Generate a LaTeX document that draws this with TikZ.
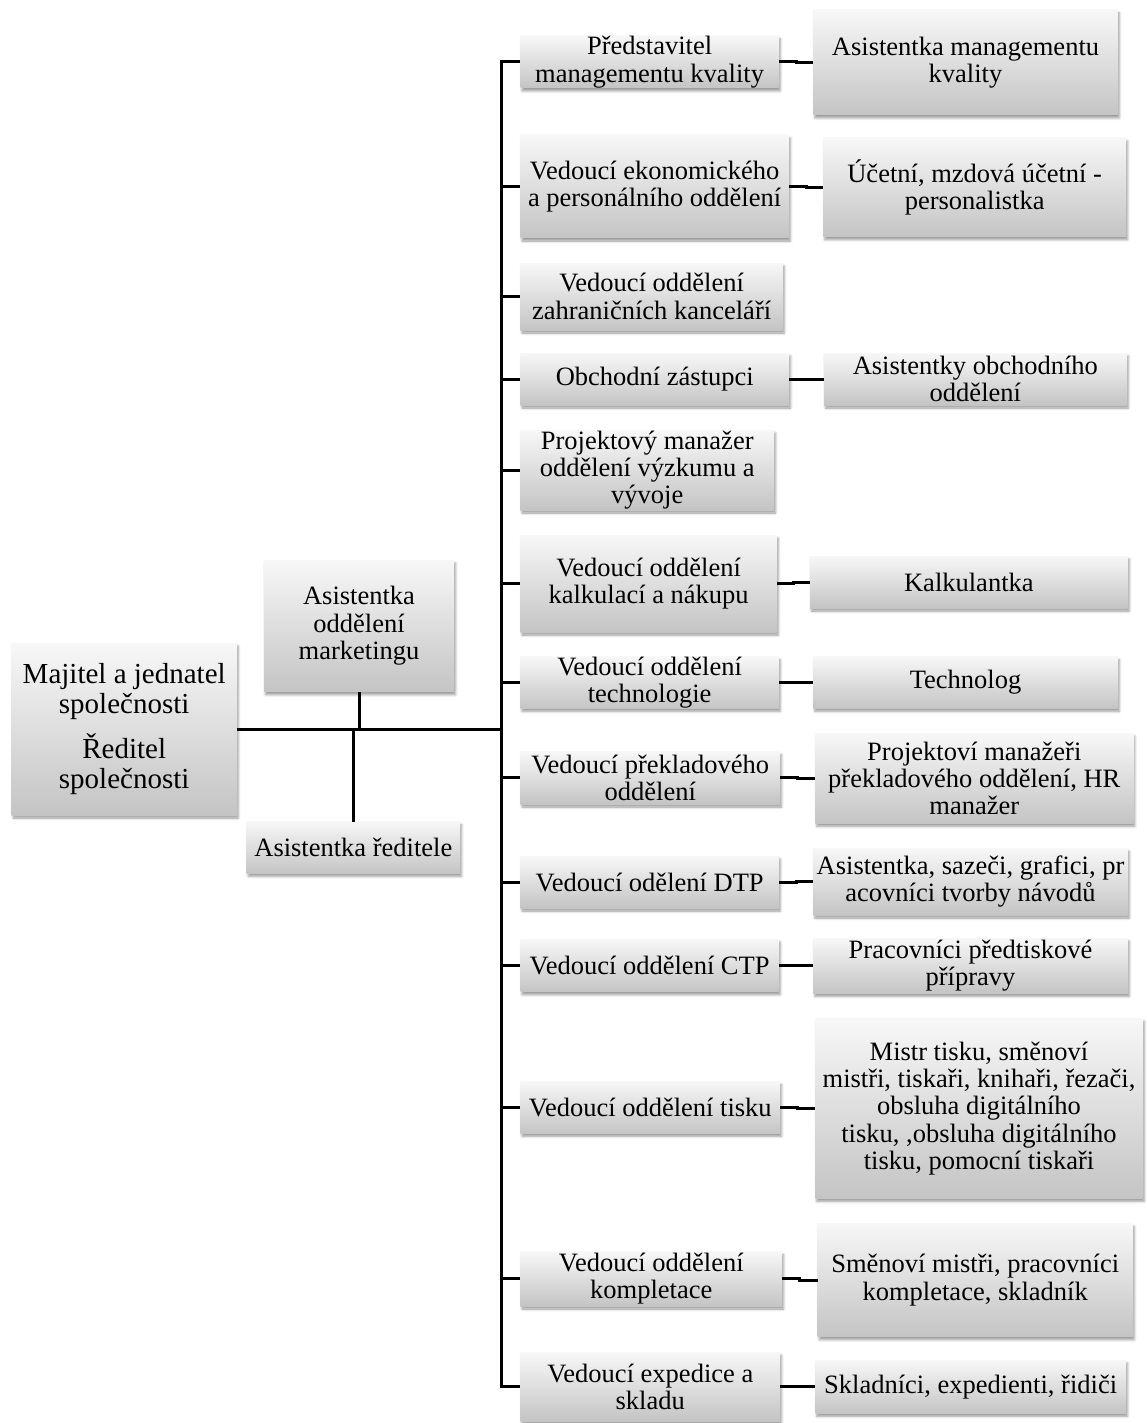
\documentclass[tikz,border=0pt]{standalone}
\usepackage{fontspec}
\setmainfont{Liberation Serif}
\usetikzlibrary{calc,shadows.blur}

\tikzset{
  orgbox/.style={rectangle, inner sep=0pt, align=center,
    top color=black!3, bottom color=black!23,
    blur shadow={shadow xshift=1.5pt, shadow yshift=-3pt,
      shadow blur radius=2.5pt, shadow opacity=40},
    font=\fontsize{26.5}{27.3}\selectfont},
  bigtext/.style={font=\fontsize{29}{30}\selectfont},
  conn/.style={draw=black, line width=3pt},
}

% box given by its corners (x1,y1) and (x2,y2), in pixels from the top left
\newcommand{\obox}[7][]{%
  \pgfmathsetmacro\oboxw{#5-#3}\pgfmathsetmacro\oboxh{#6-#4}%
  \pgfmathsetmacro\oboxx{(#3+#5)/2}\pgfmathsetmacro\oboxy{(#4+#6)/2}%
  \node[orgbox, #1, minimum width=\oboxw pt, minimum height=\oboxh pt]
    (#2) at (\oboxx,\oboxy) {#7};}

\begin{document}
\begin{tikzpicture}[x=1pt, y=-1pt]
\useasboundingbox (0,0) rectangle (1146,1423);

% left part: owner and assistants
\obox[bigtext]{root}{11.7}{643}{236.7}{815}{Majitel a jednatel\\společnosti\\[12pt]Ředitel\\společnosti}
\obox{mkt}{264}{560}{454}{691.7}{Asistentka\\oddělení\\marketingu}
\obox{red}{246.7}{821.7}{460}{873.3}{Asistentka ředitele}

% department heads
\obox{p1}{520.5}{36}{778.7}{88}{Představitel\\managementu kvality}
\obox{p2}{520.5}{135}{788.7}{238}{Vedoucí ekonomického\\a personálního oddělení}
\obox{p3}{520.5}{263}{782.7}{330}{Vedoucí oddělení\\zahraničních kanceláří}
\obox{p4}{520.5}{353}{789}{405}{Obchodní zástupci}
\obox{p5}{520.5}{430}{774}{510}{Projektový manažer\\oddělení výzkumu a\\vývoje}
\obox{p6}{520.5}{535}{776.7}{632}{Vedoucí oddělení\\kalkulací a nákupu}
\obox{p7}{520.5}{656.7}{778.7}{708.3}{Vedoucí oddělení\\technologie}
\obox{p8}{520.5}{751.7}{780}{804}{Vedoucí překladového\\oddělení}
\obox{p9}{520.5}{856}{778.7}{908}{Vedoucí odělení DTP}
\obox{p10}{520.5}{939}{778.7}{991.7}{Vedoucí oddělení CTP}
\obox{p11}{520.5}{1081.7}{780}{1133.3}{Vedoucí oddělení tisku}
\obox{p12}{520.5}{1251.7}{782}{1306}{Vedoucí oddělení\\kompletace}
\obox{p13}{520.5}{1352.3}{780}{1421}{Vedoucí expedice a\\skladu}

% staff
\obox{q1}{813.3}{10}{1117.7}{115}{Asistentka managementu\\kvality}
\obox{q2}{823.3}{138}{1126}{236.7}{Účetní, mzdová účetní -\\personalistka}
\obox{q4}{824}{353}{1126.7}{405}{Asistentky obchodního\\oddělení}
\obox{q6}{810}{556}{1127.7}{608}{Kalkulantka}
\obox{q7}{813.3}{656.7}{1117.7}{708.3}{Technolog}
\obox{q8}{815.3}{733.3}{1133.3}{823.3}{Projektoví manažeři\\překladového oddělení, HR\\manažer}
\obox{q9}{813.3}{848.3}{1127.7}{915}{Asistentka, sazeči, grafici, pr\\acovníci tvorby návodů}
\obox{q10}{813.3}{938}{1127.7}{993.3}{Pracovníci předtiskové\\přípravy}
\obox{q11}{815.3}{1018.3}{1142.7}{1198.3}{Mistr tisku, směnoví\\mistři, tiskaři, knihaři, řezači,\\obsluha digitálního\\tisku, ,obsluha digitálního\\tisku, pomocní tiskaři}
\obox{q12}{817.7}{1223.3}{1132.7}{1336.7}{Směnoví mistři, pracovníci\\kompletace, skladník}
\obox{q13}{815.3}{1360}{1126}{1413.3}{Skladníci, expedienti, řidiči}

% vertical bus
\coordinate (bus) at (501,0);
\draw[conn] (p1.west) -- (bus |- p1.west) -- (bus |- p13.west) -- (p13.west);
\foreach \n in {p2,p3,p4,p5,p6,p7,p8,p9,p10,p11,p12}
  \draw[conn] (bus |- \n.west) -- (\n.west);

% owner to bus, assistants
\draw[conn] (root.east) -- (bus |- root.east);
\draw[conn] (mkt.south) -- (mkt.south |- root.east);
\draw[conn] (red.north) -- (red.north |- root.east);

% heads to their staff
\foreach \a/\b in {p1/q1,p2/q2,p4/q4,p6/q6,p7/q7,p8/q8,p9/q9,p10/q10,p11/q11,p12/q12,p13/q13}
  \draw[conn] (\a.east) -| ($(\a.east)!.5!(\b.west)$) |- (\b.west);
\end{tikzpicture}
\end{document}
